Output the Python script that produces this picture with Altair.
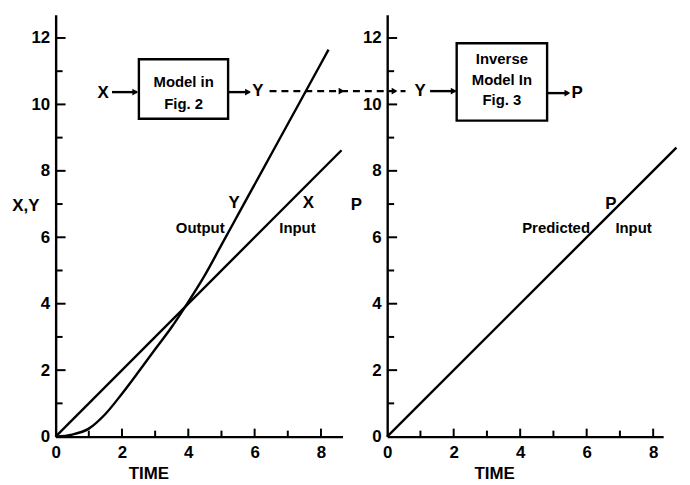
import altair as alt
import pandas as pd

# ---------------- data ----------------
x_time = [0.0, 8.62]
x_input = [0.0, 8.62]
y_time = [0, 0.5, 1, 1.5, 2, 2.5, 3, 3.5, 3.9, 4.5, 5, 5.5, 6, 6.5, 7, 7.5, 8, 8.23]
y_output = [0, 0.06, 0.24, 0.68, 1.29, 1.95, 2.63, 3.3, 3.9, 4.86, 5.77, 6.68, 7.59, 8.5, 9.41, 10.32, 11.23, 11.65]
p_time = [0.0, 8.7]
p_pred = [0.0, 8.7]
x_tick_values = [0, 2, 4, 6, 8]
y_tick_values = [0, 2, 4, 6, 8, 10, 12]
x_minor = [1, 2, 3, 4, 5, 6, 7, 8]
y_minor = [1, 2, 3, 4, 5, 6, 7, 8, 9, 10, 11, 12]

# ---------------- styling ----------------
PX = 33.45
FONT = "Liberation Sans"
LW = 2.4
K = "black"

xsL = alt.Scale(domain=[0, 8.65], nice=False, zero=False)
xsR = alt.Scale(domain=[0, 8.3], nice=False, zero=False)
ys = alt.Scale(domain=[0, 12.7], nice=False, zero=False)

AX_X = alt.Axis(values=x_tick_values, title=None, grid=False, ticks=False, tickSize=0,
                domainColor=K, domainWidth=LW, labelFont=FONT, labelFontSize=17,
                labelFontWeight="bold", labelColor=K, labelPadding=8, labelFlush=False,
                format="d")
AX_Y = alt.Axis(values=y_tick_values, title=None, grid=False, ticks=False, tickSize=0,
                domainColor=K, domainWidth=LW, labelFont=FONT, labelFontSize=17,
                labelFontWeight="bold", labelColor=K, labelPadding=6, format="d")


def X(f, xs):
    return alt.X(f, type="quantitative", scale=xs, axis=AX_X)


def Y(f):
    return alt.Y(f, type="quantitative", scale=ys, axis=AX_Y)


def texts(rows, xs, size):
    df = pd.DataFrame(rows, columns=["x", "y", "t"])
    return alt.Chart(df).mark_text(font=FONT, fontSize=size, fontWeight="bold", color=K,
                                   align="center", baseline="middle").encode(
        x=X("x", xs), y=Y("y"), text="t:N")


def segs(rows, xs, dash=None):
    df = pd.DataFrame(rows, columns=["x", "y", "x2", "y2"])
    kw = dict(color=K, strokeWidth=LW)
    if dash:
        kw["strokeDash"] = dash
    return alt.Chart(df).mark_rule(**kw).encode(
        x=X("x", xs), y=Y("y"), x2="x2:Q", y2="y2:Q")


def heads(rows, xs):
    df = pd.DataFrame(rows, columns=["x", "y"])
    return alt.Chart(df).mark_point(shape="triangle-right", filled=True, size=45,
                                    color=K, opacity=1).encode(x=X("x", xs), y=Y("y"))


def box(rows, xs):
    df = pd.DataFrame(rows, columns=["x", "y", "x2", "y2"])
    return alt.Chart(df).mark_rect(fillOpacity=0, stroke=K, strokeWidth=LW).encode(
        x=X("x", xs), y=Y("y"), x2="x2:Q", y2="y2:Q")


def ticks(xs):
    yt = pd.DataFrame({"v": y_minor})
    yt["len"] = [(10 if v % 2 == 0 else 7) / PX for v in y_minor]
    yt["z"] = 0.0
    xt = pd.DataFrame({"v": x_minor})
    xt["len"] = [(8 if v % 2 == 0 else 6) / PX for v in x_minor]
    xt["z"] = 0.0
    a = alt.Chart(yt).mark_rule(color=K, strokeWidth=2).encode(
        x=X("z", xs), x2="len:Q", y=Y("v"))
    b = alt.Chart(xt).mark_rule(color=K, strokeWidth=2).encode(
        x=X("v", xs), y=Y("z"), y2="len:Q")
    return [a, b]


# ---------------- left panel ----------------
lx_df = pd.DataFrame({"t": x_time, "v": x_input})
ly_df = pd.DataFrame({"t": y_time, "v": y_output})
line_x = alt.Chart(lx_df).mark_line(color=K, strokeWidth=LW).encode(
    x=X("t", xsL), y=Y("v"))
line_y = alt.Chart(ly_df).mark_line(color=K, strokeWidth=LW, interpolate="monotone").encode(
    x=X("t", xsL), y=Y("v"))

left = alt.layer(
    line_x, line_y,
    *ticks(xsL),
    box([(2.51, 11.36, 5.20, 9.57)], xsL),
    segs([(1.70, 10.37, 2.45, 10.37), (5.20, 10.37, 5.85, 10.37)], xsL),
    segs([(6.45, 10.40, 10.55, 10.40)], xsL, dash=[7, 5]),
    heads([(2.40, 10.37), (5.80, 10.37), (8.62, 10.40), (10.22, 10.40)], xsL),
    texts([(3.86, 10.67, "Model in"), (3.86, 10.01, "Fig. 2"),
           (4.36, 6.28, "Output"), (7.29, 6.28, "Input")], xsL, 15),
    texts([(-0.9, 6.94, "X,Y"), (1.43, 10.34, "X"), (6.10, 10.40, "Y"),
           (5.38, 7.03, "Y"), (7.62, 7.03, "X"), (2.81, -1.13, "TIME")], xsL, 17),
).properties(width=289, height=425)

# ---------------- right panel ----------------
right_df = pd.DataFrame({"t": p_time, "v": p_pred})
right_line = alt.Chart(right_df).mark_line(color=K, strokeWidth=LW).encode(
    x=X("t", xsR), y=Y("v"))

right = alt.layer(
    right_line,
    *ticks(xsR),
    box([(2.09, 11.84, 4.81, 9.51)], xsR),
    segs([(1.29, 10.40, 2.05, 10.40), (4.81, 10.34, 5.45, 10.34)], xsR),
    heads([(2.00, 10.40), (5.42, 10.34)], xsR),
    texts([(3.45, 11.36, "Inverse"), (3.45, 10.73, "Model In"), (3.45, 10.13, "Fig. 3"),
           (5.08, 6.28, "Predicted"), (7.41, 6.28, "Input")], xsR, 15),
    texts([(-0.93, 6.97, "P"), (0.99, 10.40, "Y"), (5.71, 10.34, "P"),
           (6.73, 7.0, "P"), (3.23, -1.13, "TIME")], xsR, 17),
).properties(width=278, height=425)

chart = alt.hconcat(left, right, spacing=45, bounds="flush").properties(
    padding={"left": 4, "top": 5, "right": 0, "bottom": 0},
    background="white",
).configure_view(stroke=None)

chart.save("out.html", embed_options={"renderer": "svg", "actions": False})
